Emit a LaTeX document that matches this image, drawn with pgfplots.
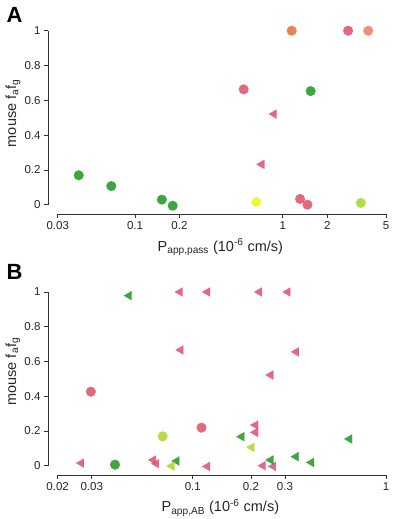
\documentclass[border=0pt]{standalone}
\usepackage{pgfplots}
\pgfplotsset{compat=1.18}
\usepackage{fontspec}
\setmainfont{Liberation Sans}
\definecolor{pinkc}{RGB}{222,78,108}
\definecolor{greenc}{RGB}{30,150,30}
\definecolor{orangec}{RGB}{232,108,48}
\definecolor{salmonc}{RGB}{238,122,96}
\definecolor{yellowc}{RGB}{242,242,30}
\definecolor{ygc}{RGB}{168,214,36}
\definecolor{axc}{RGB}{50,50,50}
\pgfplotsset{
  myaxbase/.style={
    scale only axis, width=338pt, clip=false,
    axis lines*=left, axis line style={draw=none},
    tick align=outside, major tick length=4pt,
    tick style={axc, line width=0.6pt},
    minor tick num=0,
    ytick={0,0.2,0.4,0.6,0.8,1}, yticklabels={0,0.2,0.4,0.6,0.8,1},
    tick label style={font=\fontsize{11.5}{13}\selectfont, text=black!85},
    label style={font=\fontsize{14.5}{16}\selectfont, text=black!85},
    ylabel={mouse f\textsubscript{a}f\textsubscript{g}},
  },
  mycirc/.style={only marks, color=#1, mark=*, mark size=4.9pt, mark options={solid, draw=#1, fill=#1, fill opacity=0.85, draw opacity=0.85, line width=0.1pt}},
  mytri/.style={only marks, color=#1, mark=triangle*, mark size=5.2pt, mark options={solid, draw=#1, fill=#1, fill opacity=0.85, draw opacity=0.85, line width=0.1pt, rotate=90}},
}
\begin{document}
\begin{tikzpicture}
\useasboundingbox (0,0) rectangle (392pt,-519pt);
\node[font=\bfseries\fontsize{22}{24}\selectfont] at (14.5pt,-15pt) {A};
\node[font=\bfseries\fontsize{22}{24}\selectfont] at (14.5pt,-272pt) {B};
\begin{semilogxaxis}[myaxbase, at={(48pt,-214pt)}, anchor=south west, height=183.3pt,
  xmin=0.02576, xmax=5, ymin=-0.0534, ymax=1,
  xtick={0.03,0.1,0.2,1,2,5}, xticklabels={0.03,0.1,0.2,1,2,5},
  xlabel={P\textsubscript{app,pass} (10\textsuperscript{-6} cm/s)},
  xlabel style={at={(axis description cs:0.51,-0.18)}, anchor=center},
  ylabel style={at={(axis description cs:-0.1036,0.55)}, anchor=center},
]
\draw[axc, line width=0.6pt] (axis cs:0.03,-0.0534) -- (axis cs:5,-0.0534);
\draw[axc, line width=0.6pt] (axis cs:0.02576,0) -- (axis cs:0.02576,1);
\addplot[mycirc=greenc] coordinates {(0.0416,0.169) (0.0691,0.107) (0.152,0.029) (0.180,-0.006) (1.545,0.653)};
\addplot[mycirc=pinkc] coordinates {(0.544,0.663) (2.77,1) (1.31,0.033) (1.47,0.0)};
\addplot[mycirc=orangec] coordinates {(1.15,1)};
\addplot[mycirc=salmonc] coordinates {(3.79,1)};
\addplot[mycirc=yellowc] coordinates {(0.662,0.016)};
\addplot[mycirc=ygc] coordinates {(3.38,0.010)};
\addplot[mytri=pinkc] coordinates {(0.872,0.521) (0.72,0.232)};
\end{semilogxaxis}
\begin{semilogxaxis}[myaxbase, at={(48pt,-475pt)}, anchor=south west, height=183pt,
  xmin=0.01782, xmax=1, ymin=-0.0535, ymax=1,
  xtick={0.02,0.03,0.1,0.2,0.3,1}, xticklabels={0.02,0.03,0.1,0.2,0.3,1},
  xlabel={P\textsubscript{app,AB} (10\textsuperscript{-6} cm/s)},
  xlabel style={at={(axis description cs:0.51,-0.18)}, anchor=center},
  ylabel style={at={(axis description cs:-0.1036,0.565)}, anchor=center},
]
\draw[axc, line width=0.6pt] (axis cs:0.02,-0.0535) -- (axis cs:1,-0.0535);
\draw[axc, line width=0.6pt] (axis cs:0.01782,0) -- (axis cs:0.01782,1);
\addplot[mycirc=pinkc] coordinates {(0.0297,0.426) (0.111,0.219)};
\addplot[mycirc=greenc] coordinates {(0.0396,0.006)};
\addplot[mycirc=ygc] coordinates {(0.0699,0.169)};
\addplot[mytri=pinkc] coordinates {(0.0859,1) (0.119,1) (0.221,1) (0.310,1) (0.0867,0.666) (0.343,0.655) (0.253,0.522) (0.211,0.234) (0.211,0.192) (0.231,0) (0.261,-0.004) (0.119,-0.004) (0.0625,0.033) (0.0648,0.012) (0.0265,0.015)};
\addplot[mytri=greenc] coordinates {(0.0468,0.979) (0.179,0.167) (0.647,0.154) (0.342,0.052) (0.411,0.019) (0.253,0.033) (0.0826,0.027)};
\addplot[mytri=ygc] coordinates {(0.202,0.106) (0.0778,-0.002)};
\end{semilogxaxis}
\end{tikzpicture}
\end{document}
